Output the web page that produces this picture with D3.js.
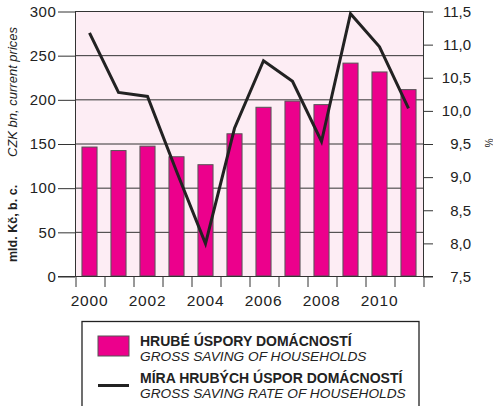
<!DOCTYPE html>
<html lang="en">
<head>
<meta charset="utf-8">
<title>Gross saving of households</title>
<script src="https://d3js.org/d3.v7.min.js"></script>
<style>
  body { margin: 0; background: #fff; }
  svg text { font-family: "Liberation Sans", Arial, sans-serif; fill: #222; }
</style>
</head>
<body>
<script>
// data
const years = [2000, 2001, 2002, 2003, 2004, 2005, 2006, 2007, 2008, 2009, 2010, 2011];
const saving = [146, 142, 147, 135, 126, 161, 191, 198, 194, 241, 231, 211];
const savingRate = [11.17, 10.27, 10.21, 9.08, 7.99, 9.73, 10.75, 10.44, 9.53, 11.46, 10.96, 10.03];
const leftTicks = [0, 50, 100, 150, 200, 250, 300];
const rightTicks = [7.5, 8.0, 8.5, 9.0, 9.5, 10.0, 10.5, 11.0, 11.5];
const yearLabels = [2000, 2002, 2004, 2006, 2008, 2010];

const width = 493, height = 406;
const plotL = 75, plotR = 423, plotT = 11, plotB = 276;

const svg = d3.select("body").append("svg")
  .attr("width", width)
  .attr("height", height);

const x = d3.scaleBand()
  .domain(years)
  .range([plotL, plotR])
  .paddingInner(0.48)
  .paddingOuter(0.24);

const xEdge = d3.scaleLinear().domain([2000, 2012]).range([plotL, plotR]);
const y = d3.scaleLinear().domain([0, 300]).range([plotB, plotT]);
const yR = d3.scaleLinear().domain([7.5, 11.5]).range([plotB, plotT]);

// plot background
svg.append("rect")
  .attr("x", plotL).attr("y", plotT)
  .attr("width", plotR - plotL).attr("height", plotB - plotT)
  .attr("fill", "#fdedf4");

// gridlines
svg.append("g")
  .selectAll("line")
  .data(leftTicks)
  .enter().append("line")
  .attr("x1", plotL).attr("x2", plotR)
  .attr("y1", d => y(d) + 0.5).attr("y2", d => y(d) + 0.5)
  .attr("stroke", "#333").attr("stroke-width", 1);

// bars
svg.append("g")
  .selectAll("rect")
  .data(years)
  .enter().append("rect")
  .attr("x", d => x(d))
  .attr("y", (d, i) => y(saving[i]))
  .attr("width", x.bandwidth())
  .attr("height", (d, i) => plotB - y(saving[i]))
  .attr("fill", "#ec008c")
  .attr("stroke", "#555")
  .attr("stroke-width", 1);

// frame
svg.append("line")
  .attr("x1", plotR + 0.5).attr("x2", plotR + 0.5).attr("y1", plotT).attr("y2", plotB)
  .attr("stroke", "#333").attr("stroke-width", 1);

// saving rate line
const line = d3.line()
  .x((d, i) => x(years[i]) + x.bandwidth() / 2)
  .y(d => yR(d));

svg.append("path")
  .datum(savingRate)
  .attr("d", line)
  .attr("fill", "none")
  .attr("stroke", "#222")
  .attr("stroke-width", 3)
  .attr("stroke-linejoin", "miter");

// left axis
const leftAxis = svg.append("g")
  .attr("transform", "translate(" + plotL + ",0.5)")
  .call(d3.axisLeft(y).tickValues(leftTicks).tickSize(17).tickPadding(1.5).tickSizeOuter(0));
leftAxis.selectAll("line").attr("stroke", "#333");
leftAxis.select(".domain").attr("stroke", "#333");
leftAxis.selectAll("text").style("font-size", "15px").style("letter-spacing", "0.6px");

// right axis
const comma = d => d3.format(".1f")(d).replace(".", ",");
const rightAxis = svg.append("g")
  .attr("transform", "translate(" + plotR + ",0.5)")
  .call(d3.axisRight(yR).tickValues(rightTicks).tickSize(10).tickFormat(comma).tickSizeOuter(0));
rightAxis.selectAll("line").attr("stroke", "#333");
rightAxis.select(".domain").remove();
rightAxis.selectAll("text")
  .attr("x", 48)
  .attr("text-anchor", "end")
  .style("font-size", "15px");

// bottom axis: ticks at year boundaries
const edgeAxis = svg.append("g")
  .attr("transform", "translate(0.5," + plotB + ")")
  .call(d3.axisBottom(xEdge).tickValues(d3.range(2000, 2013)).tickSize(11).tickFormat("").tickSizeOuter(0));
edgeAxis.selectAll("line").attr("stroke", "#333");
edgeAxis.select(".domain").remove();

svg.append("line")
  .attr("x1", 58).attr("x2", 433).attr("y1", plotB + 0.5).attr("y2", plotB + 0.5)
  .attr("stroke", "#333").attr("stroke-width", 1);

// bottom axis labels at band centres
const labelAxis = svg.append("g")
  .attr("transform", "translate(0," + plotB + ")")
  .call(d3.axisBottom(x).tickValues(yearLabels).tickSize(0).tickPadding(19));
labelAxis.select(".domain").remove();
labelAxis.selectAll("text").style("font-size", "15.5px").style("letter-spacing", "0.8px");

// axis titles
svg.append("text")
  .attr("transform", "translate(17,262) rotate(-90)")
  .style("font-size", "12.5px")
  .style("font-weight", "bold")
  .text("mld. Kč, b. c.");
svg.append("text")
  .attr("transform", "translate(17,157) rotate(-90)")
  .style("font-size", "13px")
  .style("font-style", "italic")
  .text("CZK bn, current prices");
svg.append("text")
  .attr("transform", "translate(485,143) rotate(90)")
  .attr("text-anchor", "middle")
  .style("font-size", "10px")
  .text("%");

// legend
svg.append("rect")
  .attr("x", 82).attr("y", 321.5)
  .attr("width", 337).attr("height", 100)
  .attr("fill", "#fff").attr("stroke", "#222").attr("stroke-width", 1.3);

svg.append("rect")
  .attr("x", 98).attr("y", 336)
  .attr("width", 31).attr("height", 20)
  .attr("fill", "#ec008c").attr("stroke", "#555").attr("stroke-width", 1);

svg.append("line")
  .attr("x1", 98).attr("x2", 129).attr("y1", 385.5).attr("y2", 385.5)
  .attr("stroke", "#222").attr("stroke-width", 3);

const legendText = [
  ["HRUBÉ ÚSPORY DOMÁCNOSTÍ", "bold", "normal", 346],
  ["GROSS SAVING OF HOUSEHOLDS", "normal", "italic", 361],
  ["MÍRA HRUBÝCH ÚSPOR DOMÁCNOSTÍ", "bold", "normal", 383],
  ["GROSS SAVING RATE OF HOUSEHOLDS", "normal", "italic", 398]
];
svg.append("g")
  .selectAll("text")
  .data(legendText)
  .enter().append("text")
  .attr("x", 140)
  .attr("y", d => d[3])
  .style("font-size", d => d[1] === "bold" ? "14px" : "13.7px")
  .style("font-weight", d => d[1])
  .style("font-style", d => d[2])
  .text(d => d[0]);
</script>
</body>
</html>
